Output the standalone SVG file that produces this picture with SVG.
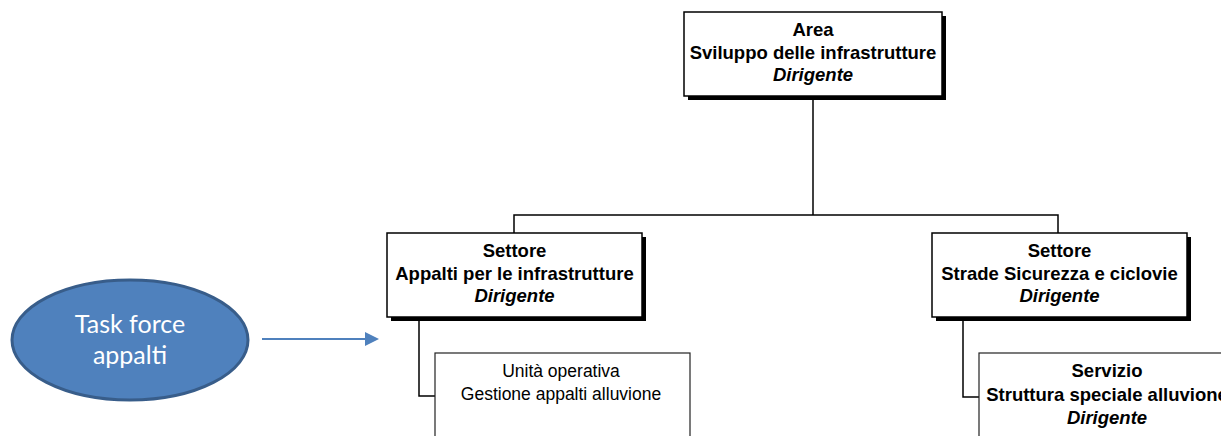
<svg xmlns="http://www.w3.org/2000/svg" width="1221" height="436" viewBox="0 0 1221 436">
<defs>
<style>
.box{fill:#ffffff;stroke:#000000;stroke-width:1.5}
.shadow{fill:#000000}
.cbox{fill:#ffffff;stroke:#222222;stroke-width:1.2}
.b{font-family:"Liberation Sans",Arial,sans-serif;font-size:18.5px;font-weight:bold;fill:#000;text-anchor:middle}
.bi{font-family:"Liberation Sans",Arial,sans-serif;font-size:18.5px;font-weight:bold;font-style:italic;fill:#000;text-anchor:middle}
.r{font-family:"Liberation Sans",Arial,sans-serif;font-size:17.5px;fill:#000;text-anchor:middle}
.conn{fill:none;stroke:#000;stroke-width:1.5}
.tf{font-family:Lato,"Open Sans",sans-serif;font-size:25px;fill:#ffffff;text-anchor:middle}
</style>
<marker id="ah" markerWidth="14" markerHeight="14" refX="12" refY="7" orient="auto" markerUnits="userSpaceOnUse" viewBox="0 0 14 14">
<path d="M0,0 L14,7 L0,14 Z" fill="#4F81BD"/>
</marker>
</defs>

<g id="connectors">
<path class="conn" d="M813,96 V215"/>
<path class="conn" d="M514,233 V215 H1058 V233"/>
<path class="conn" d="M419,317 V396 H435"/>
<path class="conn" d="M963,317 V397 H979"/>
<line x1="262" y1="339" x2="377" y2="339" stroke="#4F81BD" stroke-width="2" marker-end="url(#ah)"/>
</g>

<g id="area">
<rect class="shadow" x="688" y="16" width="258" height="84"/>
<rect class="box" x="684" y="12" width="258" height="84"/>
<text class="b" x="813" y="36">Area</text>
<text class="b" x="813" y="58.5">Sviluppo delle infrastrutture</text>
<text class="bi" x="813" y="81">Dirigente</text>
</g>

<g id="settore-appalti">
<rect class="shadow" x="391" y="237" width="255" height="84"/>
<rect class="box" x="387" y="233" width="255" height="84"/>
<text class="b" x="514.5" y="257">Settore</text>
<text class="b" x="514.5" y="279.5">Appalti per le infrastrutture</text>
<text class="bi" x="514.5" y="302">Dirigente</text>
</g>

<g id="settore-strade">
<rect class="shadow" x="936" y="237" width="255" height="84"/>
<rect class="box" x="932" y="233" width="255" height="84"/>
<text class="b" x="1059.5" y="257">Settore</text>
<text class="b" x="1059.5" y="279.5">Strade Sicurezza e ciclovie</text>
<text class="bi" x="1059.5" y="302">Dirigente</text>
</g>

<g id="uo-gestione">
<rect class="cbox" x="435" y="353" width="255" height="100"/>
<text class="r" x="561" y="377">Unità operativa</text>
<text class="r" x="561" y="400">Gestione appalti alluvione</text>
</g>

<g id="servizio">
<rect class="cbox" x="979" y="353" width="256" height="100"/>
<text class="b" x="1107" y="377">Servizio</text>
<text class="b" x="1107" y="401">Struttura speciale alluvione</text>
<text class="bi" x="1107" y="424">Dirigente</text>
</g>

<g id="task-force">
<ellipse cx="130" cy="340" rx="118" ry="60" fill="#4F81BD" stroke="#385D8A" stroke-width="3"/>
<text class="tf" x="130" y="333">Task force</text>
<text class="tf" x="130" y="364">appalti</text>
</g>
</svg>
